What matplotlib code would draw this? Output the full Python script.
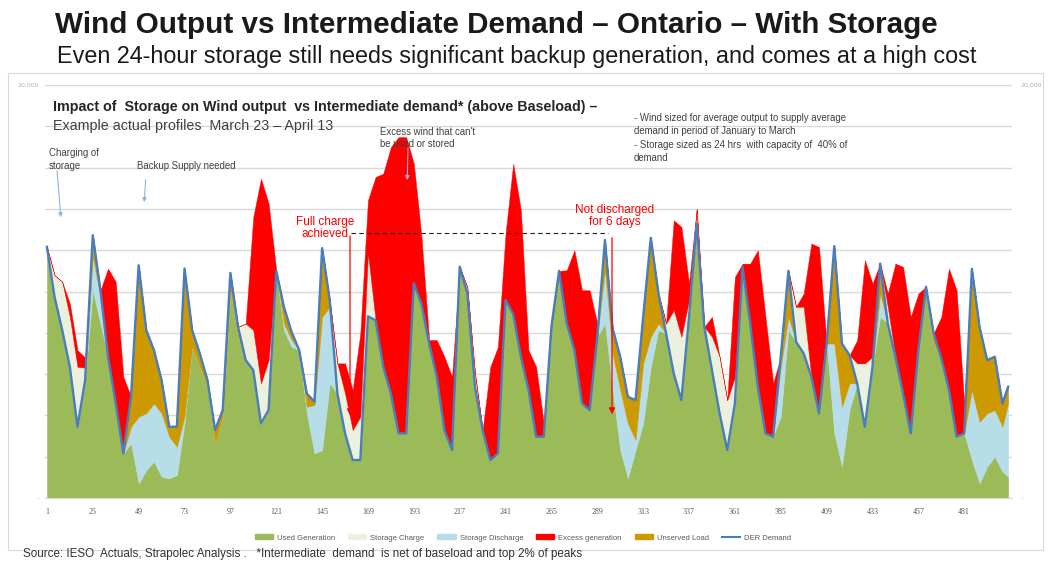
import matplotlib.pyplot as plt
import numpy as np
from matplotlib.lines import Line2D
from matplotlib.patches import Patch, Rectangle

# hourly profile read every 4 hours, March 23 - April 13 (MW)
HOURS = list(range(1, 502, 4)) + [504]

DEMAND = [
    12160, 9740, 8130, 6350, 3450, 5710, 12730, 10060,
    6840, 4580, 2160, 4900, 11270, 8130, 7160, 5710,
    3450, 3450, 11110, 8130, 7000, 5710, 3290, 4260,
    10900, 8290, 6680, 6190, 3610, 4260, 11000, 9260,
    8050, 7160, 5060, 4660, 12100, 9580, 5060, 3130,
    1840, 1840, 8800, 8600, 6350, 5060, 3130, 3130,
    10400, 9400, 7480, 5870, 3290, 2320, 11200, 9900,
    5390, 3290, 1840, 2160, 9600, 8900, 6840, 5230,
    2970, 2970, 8300, 11000, 8450, 7160, 4580, 4260,
    7810, 12500, 8210, 6840, 4900, 4740, 8770, 12600,
    9900, 7970, 6030, 4740, 8770, 13300, 8290, 6190,
    4100, 2320, 4580, 11190, 8450, 5390, 3130, 2970,
    6840, 11000, 7560, 7000, 5870, 4100, 7480, 12200,
    7480, 6920, 5550, 3450, 6350, 11350, 8450, 6840,
    5060, 3130, 7160, 10230, 7970, 6760, 5230, 2970,
    3130, 11100, 8290, 6680, 6840, 4580, 5390,
]

WIND = [
    12160, 10790, 10470, 9420, 7160, 6800, 10060, 8450,
    11110, 10470, 5870, 2650, 710, 1350, 1760, 1030,
    950, 1110, 3610, 7320, 6350, 5390, 2650, 3940,
    10060, 7810, 8450, 13610, 15470, 14260, 11030, 8130,
    7320, 7160, 4100, 2160, 2320, 5550, 6520, 6520,
    5230, 7970, 14420, 15550, 15710, 17000, 17480, 17480,
    16190, 12650, 7650, 7650, 6840, 5870, 11200, 10200,
    6030, 3290, 6350, 7320, 12810, 16190, 13940, 7160,
    6350, 3610, 8300, 11000, 11030, 12000, 10060, 10060,
    8450, 8450, 5230, 2320, 950, 2320, 3610, 6350,
    8130, 8450, 13450, 13130, 10390, 14000, 8290, 8770,
    6840, 4740, 10710, 11350, 11350, 12000, 8770, 5550,
    3940, 8130, 9260, 9900, 12320, 12160, 7480, 3130,
    1520, 4260, 7650, 11520, 10390, 8770, 9900, 11350,
    11190, 8770, 9900, 10230, 7480, 8770, 11110, 10060,
    4580, 1840, 710, 1520, 2000, 1270, 1030,
]

CHARGE = [
    0, 1050, 2340, 2420, 2900, 600, 0, 0,
    0, 0, 0, 0, 0, 0, 0, 0,
    0, 0, 0, 0, 0, 0, 0, 0,
    0, 0, 1770, 1940, 1940, 2420, 0, 0,
    0, 0, 0, 0, 0, 0, 1460, 1930,
    1450, 2100, 3070, 0, 0, 0, 0, 0,
    0, 0, 0, 0, 0, 0, 0, 300,
    640, 0, 0, 0, 0, 0, 0, 0,
    0, 0, 0, 0, 0, 0, 0, 0,
    0, 0, 0, 0, 0, 0, 0, 0,
    0, 480, 3070, 3070, 810, 700, 0, 1620,
    2740, 2420, 1290, 0, 0, 0, 0, 0,
    0, 0, 1700, 2260, 0, 0, 0, 0,
    0, 0, 970, 3070, 490, 0, 810, 0,
    0, 0, 0, 0, 0, 0, 0, 0,
    0, 0, 0, 0, 0, 0, 0,
]

DISCHARGE = [
    0, 0, 0, 0, 0, 0, 1620, 1290,
    0, 0, 0, 800, 3230, 2750, 2820, 3070,
    2020, 1370, 330, 0, 0, 0, 0, 0,
    0, 0, 0, 0, 0, 0, 0, 320,
    330, 0, 320, 2340, 6450, 3710, 0, 0,
    0, 0, 0, 0, 0, 0, 0, 0,
    0, 0, 0, 0, 0, 0, 0, 0,
    0, 0, 0, 0, 0, 0, 0, 0,
    0, 0, 0, 0, 0, 0, 0, 0,
    0, 2580, 1770, 2910, 2660, 490, 2910, 1460,
    320, 0, 0, 0, 0, 0, 0, 0,
    0, 0, 0, 0, 0, 0, 0, 0,
    2410, 640, 0, 0, 0, 0, 0, 4350,
    2900, 1290, 0, 0, 0, 1130, 0, 0,
    0, 0, 0, 0, 0, 0, 0, 0,
    0, 3390, 2980, 2580, 2260, 2180, 3550,
]

XTICKS = list(range(1, 482, 24))

C_USED = "#9bbb59"
C_CHARGE = "#ebf1de"
C_DISCH = "#b7dde8"
C_EXCESS = "#ff0000"
C_UNSERVED = "#cc9900"
C_DEMAND = "#4a7ebb"
GRID = "#d9d9d9"

W_PX, H_PX = 1050, 562


def fx(x):
    return x / W_PX


def fy(y):
    return 1 - y / H_PX


demand = np.array(DEMAND, dtype=float)
wind = np.array(WIND, dtype=float)
charge = np.array(CHARGE, dtype=float)
discharge = np.array(DISCHARGE, dtype=float)

used = np.minimum(wind, demand)
unserved = np.clip(demand - wind - discharge, 0, None)
excess = np.clip(wind - demand - charge, 0, None)

fig = plt.figure(figsize=(10.5, 5.62), dpi=100)
fig.patches.append(Rectangle((fx(8), fy(550)), fx(1043) - fx(8), fy(73) - fy(550),
                             transform=fig.transFigure, fill=False,
                             edgecolor=GRID, lw=0.8))

# headings
fig.text(fx(55), fy(25), "Wind Output vs Intermediate Demand \u2013 Ontario \u2013 With Storage",
         family="Liberation Sans", fontweight="bold",
         fontsize=21.3, color="#1a1a1a", va="center", ha="left")
fig.text(fx(57), fy(57), "Even 24-hour storage still needs significant backup generation, "
         "and comes at a high cost", family="Liberation Sans", fontsize=16.8,
         color="#1a1a1a", va="center", ha="left")
fig.text(fx(23), fy(554), "Source: IESO  Actuals, Strapolec Analysis .   *Intermediate  demand  "
         "is net of baseload and top 2% of peaks", family="Liberation Sans",
         fontsize=8.4, color="#333333", va="center", ha="left")

ax = fig.add_axes([fx(45), fy(498), fx(1012) - fx(45), fy(85) - fy(498)])
ax.stackplot(HOURS, used, discharge, unserved, charge, excess,
             colors=[C_USED, C_DISCH, C_UNSERVED, C_CHARGE, C_EXCESS],
             linewidth=0.3, edgecolor="face")
ax.plot(HOURS, demand, color=C_DEMAND, lw=1.7, solid_joinstyle="round")

ax.set_xlim(0, 506)
ax.set_ylim(0, 20000)
ax.set_yticks(range(0, 20001, 2000))
ax.set_yticklabels(["-"] + [""] * 9 + ["20,000"])
ax.set_xticks(XTICKS)
ax.set_xticklabels([str(t) for t in XTICKS])
ax.tick_params(axis="x", length=0, pad=7, labelsize=5.8, labelcolor="#595959")
ax.tick_params(axis="y", length=0, pad=4, labelsize=4.5, labelcolor="#b0b0b0")
for lab in ax.get_xticklabels():
    lab.set_family("Liberation Serif")
ax.grid(axis="y", color=GRID, lw=1.0)
ax.set_axisbelow(True)
for side in ["top", "left", "right"]:
    ax.spines[side].set_visible(False)
ax.spines["bottom"].set_color(GRID)

ax2 = ax.twinx()
ax2.set_ylim(0, 20000)
ax2.set_yticks(range(0, 20001, 2000))
ax2.set_yticklabels(["-"] + [""] * 9 + ["20,000"])
ax2.tick_params(axis="y", length=0, pad=6, labelsize=4.5, labelcolor="#b0b0b0")
for side in ["top", "left", "right", "bottom"]:
    ax2.spines[side].set_visible(False)

# chart heading inside the box
fig.text(fx(53), fy(107), "Impact of  Storage on Wind output  vs Intermediate demand* "
         "(above Baseload) \u2013", family="Liberation Sans", fontweight="bold",
         fontsize=10.3, color="#262626", va="center")
fig.text(fx(53), fy(126), "Example actual profiles  March 23 \u2013 April 13",
         family="Liberation Sans", fontsize=10.3, color="#404040", va="center")

small = dict(family="Liberation Sans", fontsize=6.9, color="#404040",
             va="center", ha="left", linespacing=1.35)
fig.text(fx(49), fy(159.5), "Charging of\nstorage", **small)
fig.text(fx(137), fy(166), "Backup Supply needed", **small)
fig.text(fx(380), fy(138), "Excess wind that can't\nbe used or stored", **small)
fig.text(fx(634), fy(138), "- Wind sized for average output to supply average\n"
         "demand in period of January to March\n"
         "- Storage sized as 24 hrs  with capacity of  40% of\ndemand",
         **dict(small, linespacing=1.4))

red = dict(family="Liberation Sans", fontsize=8.5, color="#ff0000",
           va="center", ha="center", linespacing=1.1)
fig.text(fx(325), fy(228), "Full charge\nachieved", **red)
fig.text(fx(615), fy(216), "Not discharged\nfor 6 days", **red)

blue_arrow = dict(arrowstyle="-|>", color="#8eb4e3", lw=0.8, mutation_scale=6)
ax.annotate("", xy=(8.4, 13460), xytext=(6.2, 15980), arrowprops=blue_arrow)
ax.annotate("", xy=(51.8, 14190), xytext=(52.8, 15550), arrowprops=blue_arrow)
ax.annotate("", xy=(189.5, 15260), xytext=(190, 17100), arrowprops=blue_arrow)

red_arrow = dict(arrowstyle="-|>", color="#ff0000", lw=0.9, mutation_scale=9)
ax.annotate("", xy=(159.6, 3870), xytext=(159.6, 12830), arrowprops=red_arrow)
ax.annotate("", xy=(296.7, 3920), xytext=(296.7, 12740), arrowprops=red_arrow)
ax.plot([160, 294.6], [12830, 12830], color="#222222", lw=0.8, ls=(0, (4, 3)))

handles = [
    Patch(color=C_USED), Patch(color=C_CHARGE), Patch(color=C_DISCH),
    Patch(color=C_EXCESS), Patch(color=C_UNSERVED),
    Line2D([], [], color=C_DEMAND, lw=1.5),
]
labels = ["Used Generation", "Storage Charge", "Storage Discharge",
          "Excess generation", "Unserved Load", "DER Demand"]
fig.legend(handles, labels, loc="center", bbox_to_anchor=(fx(523), fy(538)),
           ncol=6, frameon=False, handlelength=2.4,
           handleheight=0.55, columnspacing=1.7, handletextpad=0.5,
           labelcolor="#595959", prop={"family": "Liberation Sans", "size": 5.5})

fig.savefig("out.png", dpi=100)
